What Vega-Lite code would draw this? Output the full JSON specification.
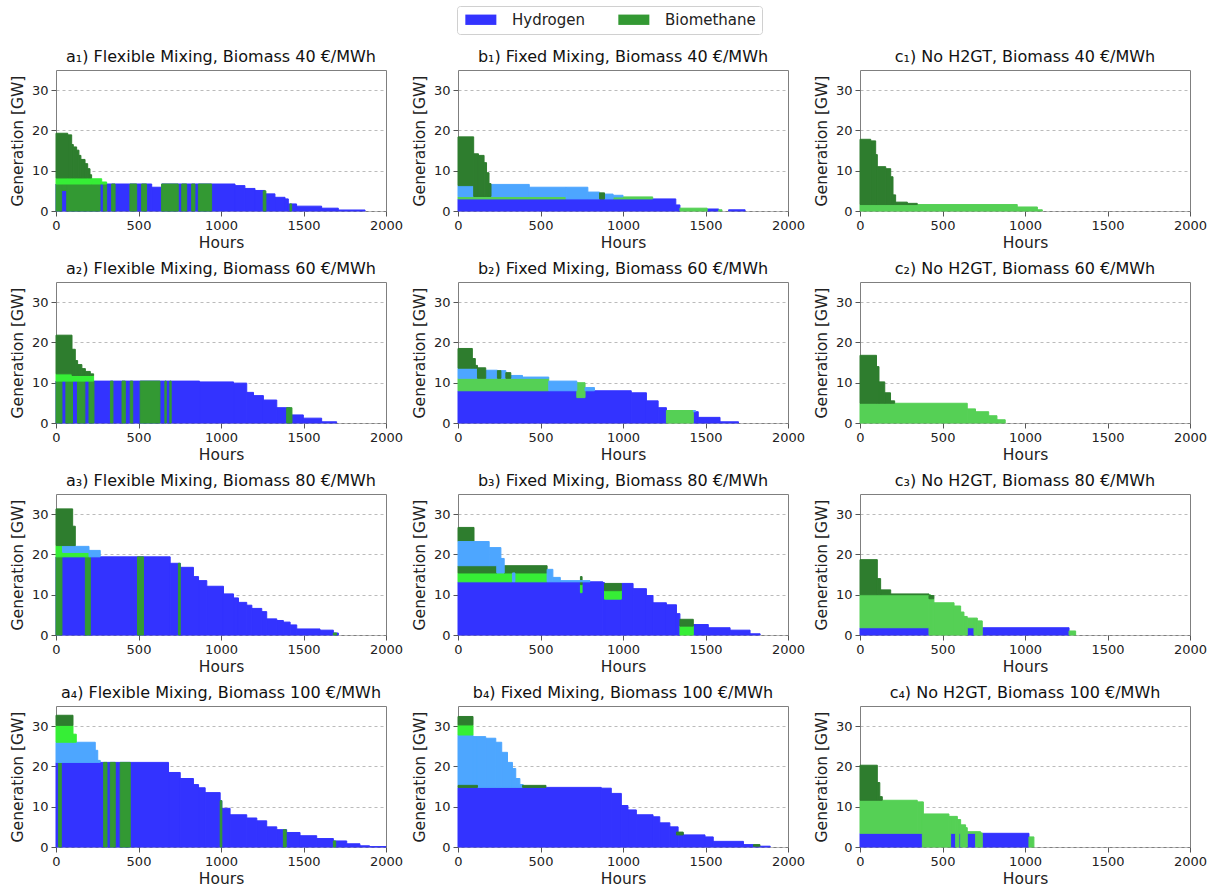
{
"$schema": "https://vega.github.io/schema/vega-lite/v6.json",
"padding": {"left": 9, "top": 5, "right": 5, "bottom": 5},
"bounds": "flush",
"columns": 3,
"spacing": {"row": 71, "column": 72},
"data": {"values": [
{"p":"a1","f":"Hydrogen","x":0,"x2":580,"y":0,"y2":6.7},
{"p":"a1","f":"Hydrogen","x":580,"x2":640,"y":0,"y2":5.9},
{"p":"a1","f":"Hydrogen","x":640,"x2":1085,"y":0,"y2":6.7},
{"p":"a1","f":"Hydrogen","x":1085,"x2":1145,"y":0,"y2":6.3},
{"p":"a1","f":"Hydrogen","x":1145,"x2":1206,"y":0,"y2":5.6},
{"p":"a1","f":"Hydrogen","x":1206,"x2":1266,"y":0,"y2":5.1},
{"p":"a1","f":"Hydrogen","x":1266,"x2":1327,"y":0,"y2":4.25},
{"p":"a1","f":"Hydrogen","x":1327,"x2":1388,"y":0,"y2":3.4},
{"p":"a1","f":"Hydrogen","x":1388,"x2":1408,"y":0,"y2":3.0},
{"p":"a1","f":"Hydrogen","x":1408,"x2":1458,"y":0,"y2":1.75},
{"p":"a1","f":"Hydrogen","x":1458,"x2":1610,"y":0,"y2":1.2},
{"p":"a1","f":"Hydrogen","x":1610,"x2":1711,"y":0,"y2":0.7},
{"p":"a1","f":"Hydrogen","x":1711,"x2":1873,"y":0,"y2":0.25},
{"p":"a1","f":"Biomethane","x":0,"x2":34,"y":0,"y2":6.7},
{"p":"a1","f":"Biomethane","x":34,"x2":65,"y":5.1,"y2":6.7},
{"p":"a1","f":"Biomethane","x":65,"x2":267,"y":0,"y2":6.7},
{"p":"a1","f":"Biomethane","x":287,"x2":307,"y":0,"y2":6.7},
{"p":"a1","f":"Biomethane","x":337,"x2":358,"y":0,"y2":6.7},
{"p":"a1","f":"Biomethane","x":448,"x2":489,"y":0,"y2":6.7},
{"p":"a1","f":"Biomethane","x":519,"x2":549,"y":0,"y2":6.7},
{"p":"a1","f":"Biomethane","x":640,"x2":741,"y":0,"y2":6.7},
{"p":"a1","f":"Biomethane","x":762,"x2":792,"y":0,"y2":6.7},
{"p":"a1","f":"Biomethane","x":822,"x2":842,"y":0,"y2":6.7},
{"p":"a1","f":"Biomethane","x":863,"x2":943,"y":0,"y2":6.7},
{"p":"a1","f":"Biomethane","x":1256,"x2":1272,"y":0,"y2":5.0},
{"p":"a1","f":"Biomethane","x":1418,"x2":1428,"y":0,"y2":1.75},
{"p":"a1","f":"Biomethane B","x":0,"x2":216,"y":6.7,"y2":8.2},
{"p":"a1","f":"Biomethane B","x":216,"x2":277,"y":6.7,"y2":8.0},
{"p":"a1","f":"Biomethane B","x":277,"x2":307,"y":6.7,"y2":7.2},
{"p":"a1","f":"Biomethane C","x":0,"x2":71,"y":8.2,"y2":19.3},
{"p":"a1","f":"Biomethane C","x":71,"x2":95,"y":8.2,"y2":18.9},
{"p":"a1","f":"Biomethane C","x":95,"x2":105,"y":8.2,"y2":16.5},
{"p":"a1","f":"Biomethane C","x":105,"x2":125,"y":8.2,"y2":15.9},
{"p":"a1","f":"Biomethane C","x":125,"x2":139,"y":8.2,"y2":15.1},
{"p":"a1","f":"Biomethane C","x":139,"x2":151,"y":8.2,"y2":13.8},
{"p":"a1","f":"Biomethane C","x":151,"x2":176,"y":8.2,"y2":12.8},
{"p":"a1","f":"Biomethane C","x":176,"x2":192,"y":8.2,"y2":11.75},
{"p":"a1","f":"Biomethane C","x":192,"x2":206,"y":8.2,"y2":10.5},
{"p":"a1","f":"Biomethane C","x":206,"x2":216,"y":8.2,"y2":9.0},

{"p":"b1","f":"Hydrogen","x":0,"x2":1320,"y":0,"y2":3.0},
{"p":"b1","f":"Hydrogen","x":1320,"x2":1345,"y":0,"y2":1.5},
{"p":"b1","f":"Hydrogen","x":1510,"x2":1580,"y":0,"y2":0.5},
{"p":"b1","f":"Hydrogen","x":1640,"x2":1740,"y":0,"y2":0.3},
{"p":"b1","f":"Biomethane D","x":0,"x2":655,"y":3.0,"y2":3.6},
{"p":"b1","f":"Biomethane D","x":940,"x2":1180,"y":3.0,"y2":3.5},
{"p":"b1","f":"Biomethane D","x":1345,"x2":1510,"y":0,"y2":0.7},
{"p":"b1","f":"Biomethane D","x":1580,"x2":1600,"y":0,"y2":0.3},
{"p":"b1","f":"Hydrogen B","x":0,"x2":95,"y":3.6,"y2":6.3},
{"p":"b1","f":"Hydrogen B","x":195,"x2":432,"y":3.6,"y2":6.6},
{"p":"b1","f":"Hydrogen B","x":432,"x2":655,"y":3.6,"y2":5.9},
{"p":"b1","f":"Hydrogen B","x":655,"x2":787,"y":3.0,"y2":5.9},
{"p":"b1","f":"Hydrogen B","x":787,"x2":858,"y":3.0,"y2":4.7},
{"p":"b1","f":"Hydrogen B","x":888,"x2":940,"y":3.0,"y2":4.2},
{"p":"b1","f":"Hydrogen B","x":940,"x2":1000,"y":3.5,"y2":3.9},
{"p":"b1","f":"Biomethane C","x":0,"x2":95,"y":6.3,"y2":18.4},
{"p":"b1","f":"Biomethane C","x":95,"x2":124,"y":3.6,"y2":14.2},
{"p":"b1","f":"Biomethane C","x":124,"x2":158,"y":3.6,"y2":13.8},
{"p":"b1","f":"Biomethane C","x":158,"x2":173,"y":3.6,"y2":12.0},
{"p":"b1","f":"Biomethane C","x":173,"x2":188,"y":3.6,"y2":9.5},
{"p":"b1","f":"Biomethane C","x":188,"x2":200,"y":3.6,"y2":6.8},
{"p":"b1","f":"Biomethane C","x":858,"x2":888,"y":3.0,"y2":4.5},

{"p":"c1","f":"Biomethane D","x":0,"x2":953,"y":0,"y2":1.6},
{"p":"c1","f":"Biomethane D","x":953,"x2":1075,"y":0,"y2":1.0},
{"p":"c1","f":"Biomethane D","x":1075,"x2":1105,"y":0,"y2":0.3},
{"p":"c1","f":"Biomethane C","x":0,"x2":65,"y":1.6,"y2":17.8},
{"p":"c1","f":"Biomethane C","x":65,"x2":95,"y":1.6,"y2":17.4},
{"p":"c1","f":"Biomethane C","x":95,"x2":105,"y":1.6,"y2":14.0},
{"p":"c1","f":"Biomethane C","x":105,"x2":156,"y":1.6,"y2":11.0},
{"p":"c1","f":"Biomethane C","x":156,"x2":186,"y":1.6,"y2":10.5},
{"p":"c1","f":"Biomethane C","x":186,"x2":200,"y":1.6,"y2":8.5},
{"p":"c1","f":"Biomethane C","x":200,"x2":216,"y":1.6,"y2":4.0},
{"p":"c1","f":"Biomethane C","x":216,"x2":287,"y":1.6,"y2":2.2},
{"p":"c1","f":"Biomethane C","x":287,"x2":347,"y":1.6,"y2":1.9},

{"p":"a2","f":"Hydrogen","x":0,"x2":870,"y":0,"y2":10.4},
{"p":"a2","f":"Hydrogen","x":870,"x2":1076,"y":0,"y2":10.2},
{"p":"a2","f":"Hydrogen","x":1076,"x2":1156,"y":0,"y2":9.9},
{"p":"a2","f":"Hydrogen","x":1156,"x2":1197,"y":0,"y2":7.6},
{"p":"a2","f":"Hydrogen","x":1197,"x2":1257,"y":0,"y2":6.8},
{"p":"a2","f":"Hydrogen","x":1257,"x2":1338,"y":0,"y2":5.7},
{"p":"a2","f":"Hydrogen","x":1338,"x2":1419,"y":0,"y2":3.8},
{"p":"a2","f":"Hydrogen","x":1419,"x2":1499,"y":0,"y2":2.0},
{"p":"a2","f":"Hydrogen","x":1499,"x2":1610,"y":0,"y2":1.2},
{"p":"a2","f":"Hydrogen","x":1610,"x2":1701,"y":0,"y2":0.3},
{"p":"a2","f":"Biomethane","x":0,"x2":36,"y":0,"y2":10.4},
{"p":"a2","f":"Biomethane","x":60,"x2":100,"y":0,"y2":10.4},
{"p":"a2","f":"Biomethane","x":130,"x2":175,"y":0,"y2":10.4},
{"p":"a2","f":"Biomethane","x":200,"x2":230,"y":0,"y2":10.4},
{"p":"a2","f":"Biomethane","x":330,"x2":345,"y":0,"y2":10.4},
{"p":"a2","f":"Biomethane","x":400,"x2":420,"y":0,"y2":10.4},
{"p":"a2","f":"Biomethane","x":450,"x2":465,"y":0,"y2":10.4},
{"p":"a2","f":"Biomethane","x":510,"x2":630,"y":0,"y2":10.4},
{"p":"a2","f":"Biomethane","x":660,"x2":668,"y":0,"y2":10.4},
{"p":"a2","f":"Biomethane","x":690,"x2":698,"y":0,"y2":10.4},
{"p":"a2","f":"Biomethane","x":1398,"x2":1430,"y":0,"y2":3.8},
{"p":"a2","f":"Biomethane B","x":0,"x2":100,"y":10.4,"y2":12.2},
{"p":"a2","f":"Biomethane B","x":100,"x2":228,"y":10.4,"y2":11.8},
{"p":"a2","f":"Biomethane C","x":0,"x2":97,"y":12.2,"y2":21.8},
{"p":"a2","f":"Biomethane C","x":97,"x2":117,"y":11.8,"y2":18.3},
{"p":"a2","f":"Biomethane C","x":117,"x2":131,"y":11.8,"y2":15.5},
{"p":"a2","f":"Biomethane C","x":131,"x2":157,"y":11.8,"y2":14.5},
{"p":"a2","f":"Biomethane C","x":157,"x2":178,"y":11.8,"y2":13.5},
{"p":"a2","f":"Biomethane C","x":178,"x2":208,"y":11.8,"y2":12.8},
{"p":"a2","f":"Biomethane C","x":208,"x2":228,"y":11.8,"y2":12.2},

{"p":"b2","f":"Hydrogen","x":0,"x2":1050,"y":0,"y2":8.0},
{"p":"b2","f":"Hydrogen","x":1050,"x2":1142,"y":0,"y2":7.5},
{"p":"b2","f":"Hydrogen","x":1142,"x2":1213,"y":0,"y2":5.5},
{"p":"b2","f":"Hydrogen","x":1213,"x2":1263,"y":0,"y2":3.8},
{"p":"b2","f":"Hydrogen","x":1426,"x2":1456,"y":0,"y2":2.8},
{"p":"b2","f":"Hydrogen","x":1456,"x2":1588,"y":0,"y2":1.4},
{"p":"b2","f":"Hydrogen","x":1588,"x2":1700,"y":0,"y2":0.3},
{"p":"b2","f":"Biomethane D","x":0,"x2":550,"y":8.0,"y2":11.1},
{"p":"b2","f":"Biomethane D","x":720,"x2":770,"y":6.3,"y2":10.0},
{"p":"b2","f":"Biomethane D","x":1263,"x2":1426,"y":0,"y2":3.1},
{"p":"b2","f":"Hydrogen B","x":0,"x2":118,"y":11.1,"y2":13.6},
{"p":"b2","f":"Hydrogen B","x":168,"x2":239,"y":11.1,"y2":13.1},
{"p":"b2","f":"Hydrogen B","x":260,"x2":290,"y":11.1,"y2":13.0},
{"p":"b2","f":"Hydrogen B","x":320,"x2":391,"y":11.1,"y2":11.8},
{"p":"b2","f":"Hydrogen B","x":391,"x2":550,"y":11.1,"y2":11.4},
{"p":"b2","f":"Hydrogen B","x":550,"x2":720,"y":8.0,"y2":10.4},
{"p":"b2","f":"Hydrogen B","x":770,"x2":827,"y":8.0,"y2":8.8},
{"p":"b2","f":"Hydrogen B","x":1426,"x2":1440,"y":2.8,"y2":3.1},
{"p":"b2","f":"Biomethane C","x":0,"x2":87,"y":13.6,"y2":18.5},
{"p":"b2","f":"Biomethane C","x":87,"x2":105,"y":13.6,"y2":16.0},
{"p":"b2","f":"Biomethane C","x":105,"x2":118,"y":13.6,"y2":14.3},
{"p":"b2","f":"Biomethane C","x":118,"x2":168,"y":11.1,"y2":13.7},
{"p":"b2","f":"Biomethane C","x":239,"x2":260,"y":11.1,"y2":13.0},
{"p":"b2","f":"Biomethane C","x":290,"x2":320,"y":11.1,"y2":12.5},

{"p":"c2","f":"Biomethane D","x":0,"x2":650,"y":0,"y2":4.9},
{"p":"c2","f":"Biomethane D","x":650,"x2":700,"y":0,"y2":3.5},
{"p":"c2","f":"Biomethane D","x":700,"x2":780,"y":0,"y2":2.8},
{"p":"c2","f":"Biomethane D","x":780,"x2":830,"y":0,"y2":1.8},
{"p":"c2","f":"Biomethane D","x":830,"x2":880,"y":0,"y2":0.8},
{"p":"c2","f":"Biomethane C","x":0,"x2":100,"y":4.9,"y2":16.8},
{"p":"c2","f":"Biomethane C","x":100,"x2":115,"y":4.9,"y2":14.0},
{"p":"c2","f":"Biomethane C","x":115,"x2":150,"y":4.9,"y2":10.2},
{"p":"c2","f":"Biomethane C","x":150,"x2":185,"y":4.9,"y2":7.5},
{"p":"c2","f":"Biomethane C","x":185,"x2":210,"y":4.9,"y2":5.5},

{"p":"a3","f":"Hydrogen","x":0,"x2":692,"y":0,"y2":19.4},
{"p":"a3","f":"Hydrogen","x":692,"x2":753,"y":0,"y2":17.8},
{"p":"a3","f":"Hydrogen","x":753,"x2":833,"y":0,"y2":16.8},
{"p":"a3","f":"Hydrogen","x":833,"x2":864,"y":0,"y2":14.5},
{"p":"a3","f":"Hydrogen","x":864,"x2":914,"y":0,"y2":13.5},
{"p":"a3","f":"Hydrogen","x":914,"x2":1015,"y":0,"y2":12.1},
{"p":"a3","f":"Hydrogen","x":1015,"x2":1076,"y":0,"y2":10.2},
{"p":"a3","f":"Hydrogen","x":1076,"x2":1106,"y":0,"y2":9.2},
{"p":"a3","f":"Hydrogen","x":1106,"x2":1156,"y":0,"y2":8.1},
{"p":"a3","f":"Hydrogen","x":1156,"x2":1187,"y":0,"y2":7.4},
{"p":"a3","f":"Hydrogen","x":1187,"x2":1247,"y":0,"y2":6.6},
{"p":"a3","f":"Hydrogen","x":1247,"x2":1277,"y":0,"y2":5.8},
{"p":"a3","f":"Hydrogen","x":1277,"x2":1338,"y":0,"y2":4.0},
{"p":"a3","f":"Hydrogen","x":1338,"x2":1378,"y":0,"y2":3.6},
{"p":"a3","f":"Hydrogen","x":1378,"x2":1419,"y":0,"y2":3.2},
{"p":"a3","f":"Hydrogen","x":1419,"x2":1459,"y":0,"y2":2.5},
{"p":"a3","f":"Hydrogen","x":1459,"x2":1600,"y":0,"y2":1.5},
{"p":"a3","f":"Hydrogen","x":1600,"x2":1681,"y":0,"y2":1.2},
{"p":"a3","f":"Hydrogen","x":1681,"x2":1711,"y":0,"y2":0.5},
{"p":"a3","f":"Biomethane","x":0,"x2":36,"y":0,"y2":19.4},
{"p":"a3","f":"Biomethane","x":178,"x2":208,"y":0,"y2":19.4},
{"p":"a3","f":"Biomethane","x":494,"x2":530,"y":0,"y2":19.4},
{"p":"a3","f":"Biomethane","x":742,"x2":753,"y":0,"y2":17.8},
{"p":"a3","f":"Biomethane","x":1681,"x2":1700,"y":0,"y2":0.5},
{"p":"a3","f":"Biomethane B","x":0,"x2":40,"y":20.5,"y2":22.2},
{"p":"a3","f":"Biomethane B","x":0,"x2":200,"y":19.4,"y2":20.5},
{"p":"a3","f":"Hydrogen B","x":40,"x2":117,"y":20.5,"y2":22.2},
{"p":"a3","f":"Hydrogen B","x":117,"x2":200,"y":20.5,"y2":22.0},
{"p":"a3","f":"Hydrogen B","x":200,"x2":268,"y":19.4,"y2":21.0},
{"p":"a3","f":"Biomethane C","x":0,"x2":101,"y":22.2,"y2":31.3},
{"p":"a3","f":"Biomethane C","x":101,"x2":117,"y":22.2,"y2":27.0},

{"p":"b3","f":"Hydrogen","x":0,"x2":878,"y":0,"y2":13.2},
{"p":"b3","f":"Hydrogen","x":878,"x2":888,"y":0,"y2":13.0},
{"p":"b3","f":"Hydrogen","x":888,"x2":990,"y":0,"y2":8.9},
{"p":"b3","f":"Hydrogen","x":990,"x2":1061,"y":0,"y2":12.8},
{"p":"b3","f":"Hydrogen","x":1061,"x2":1142,"y":0,"y2":11.5},
{"p":"b3","f":"Hydrogen","x":1142,"x2":1182,"y":0,"y2":9.8},
{"p":"b3","f":"Hydrogen","x":1182,"x2":1263,"y":0,"y2":8.0},
{"p":"b3","f":"Hydrogen","x":1263,"x2":1324,"y":0,"y2":7.5},
{"p":"b3","f":"Hydrogen","x":1324,"x2":1345,"y":0,"y2":5.3},
{"p":"b3","f":"Hydrogen","x":1426,"x2":1517,"y":0,"y2":2.6},
{"p":"b3","f":"Hydrogen","x":1517,"x2":1649,"y":0,"y2":1.8},
{"p":"b3","f":"Hydrogen","x":1649,"x2":1770,"y":0,"y2":1.2},
{"p":"b3","f":"Hydrogen","x":1770,"x2":1831,"y":0,"y2":0.3},
{"p":"b3","f":"Biomethane B","x":888,"x2":990,"y":8.9,"y2":11.0},
{"p":"b3","f":"Biomethane B","x":1345,"x2":1426,"y":0,"y2":2.2},
{"p":"b3","f":"Biomethane B","x":0,"x2":330,"y":13.2,"y2":15.4},
{"p":"b3","f":"Biomethane B","x":345,"x2":540,"y":13.2,"y2":15.4},
{"p":"b3","f":"Biomethane B","x":742,"x2":752,"y":10.5,"y2":12.5},
{"p":"b3","f":"Biomethane C","x":888,"x2":990,"y":11.0,"y2":12.8},
{"p":"b3","f":"Biomethane C","x":1345,"x2":1426,"y":2.2,"y2":3.9},
{"p":"b3","f":"Biomethane C","x":0,"x2":97,"y":23.2,"y2":26.7},
{"p":"b3","f":"Biomethane C","x":0,"x2":235,"y":15.4,"y2":17.2},
{"p":"b3","f":"Biomethane C","x":280,"x2":540,"y":15.4,"y2":17.2},
{"p":"b3","f":"Biomethane C","x":742,"x2":752,"y":12.5,"y2":14.5},
{"p":"b3","f":"Hydrogen B","x":0,"x2":189,"y":17.2,"y2":23.2},
{"p":"b3","f":"Hydrogen B","x":189,"x2":260,"y":17.2,"y2":21.7},
{"p":"b3","f":"Hydrogen B","x":235,"x2":260,"y":15.4,"y2":17.2},
{"p":"b3","f":"Hydrogen B","x":260,"x2":280,"y":15.4,"y2":19.0},
{"p":"b3","f":"Hydrogen B","x":330,"x2":345,"y":13.2,"y2":15.4},
{"p":"b3","f":"Hydrogen B","x":540,"x2":575,"y":13.2,"y2":16.3},
{"p":"b3","f":"Hydrogen B","x":575,"x2":620,"y":13.2,"y2":14.3},
{"p":"b3","f":"Hydrogen B","x":620,"x2":800,"y":13.2,"y2":13.5},

{"p":"c3","f":"Hydrogen","x":0,"x2":418,"y":0,"y2":1.8},
{"p":"c3","f":"Hydrogen","x":650,"x2":691,"y":0,"y2":1.8},
{"p":"c3","f":"Hydrogen","x":741,"x2":1267,"y":0,"y2":1.8},
{"p":"c3","f":"Biomethane D","x":0,"x2":418,"y":1.8,"y2":10.0},
{"p":"c3","f":"Biomethane D","x":418,"x2":428,"y":0,"y2":10.0},
{"p":"c3","f":"Biomethane D","x":428,"x2":448,"y":0,"y2":9.0},
{"p":"c3","f":"Biomethane D","x":448,"x2":570,"y":0,"y2":8.0},
{"p":"c3","f":"Biomethane D","x":570,"x2":610,"y":0,"y2":7.2},
{"p":"c3","f":"Biomethane D","x":610,"x2":630,"y":0,"y2":5.7},
{"p":"c3","f":"Biomethane D","x":630,"x2":650,"y":0,"y2":4.6},
{"p":"c3","f":"Biomethane D","x":650,"x2":691,"y":1.8,"y2":4.2},
{"p":"c3","f":"Biomethane D","x":691,"x2":711,"y":0,"y2":4.2},
{"p":"c3","f":"Biomethane D","x":711,"x2":741,"y":0,"y2":3.5},
{"p":"c3","f":"Biomethane D","x":1267,"x2":1307,"y":0,"y2":1.0},
{"p":"c3","f":"Biomethane C","x":0,"x2":105,"y":10.0,"y2":18.7},
{"p":"c3","f":"Biomethane C","x":105,"x2":125,"y":10.0,"y2":14.0},
{"p":"c3","f":"Biomethane C","x":125,"x2":186,"y":10.0,"y2":11.2},
{"p":"c3","f":"Biomethane C","x":186,"x2":418,"y":10.0,"y2":10.2},
{"p":"c3","f":"Biomethane C","x":418,"x2":448,"y":9.0,"y2":9.8},

{"p":"a4","f":"Hydrogen","x":0,"x2":682,"y":0,"y2":21.0},
{"p":"a4","f":"Hydrogen","x":682,"x2":753,"y":0,"y2":18.5},
{"p":"a4","f":"Hydrogen","x":753,"x2":833,"y":0,"y2":17.0},
{"p":"a4","f":"Hydrogen","x":833,"x2":864,"y":0,"y2":15.5},
{"p":"a4","f":"Hydrogen","x":864,"x2":904,"y":0,"y2":14.7},
{"p":"a4","f":"Hydrogen","x":904,"x2":995,"y":0,"y2":13.5},
{"p":"a4","f":"Hydrogen","x":995,"x2":1005,"y":0,"y2":11.5},
{"p":"a4","f":"Hydrogen","x":1005,"x2":1055,"y":0,"y2":9.6},
{"p":"a4","f":"Hydrogen","x":1055,"x2":1156,"y":0,"y2":8.0},
{"p":"a4","f":"Hydrogen","x":1156,"x2":1217,"y":0,"y2":7.2},
{"p":"a4","f":"Hydrogen","x":1217,"x2":1277,"y":0,"y2":6.5},
{"p":"a4","f":"Hydrogen","x":1277,"x2":1338,"y":0,"y2":5.0},
{"p":"a4","f":"Hydrogen","x":1338,"x2":1398,"y":0,"y2":4.3},
{"p":"a4","f":"Hydrogen","x":1398,"x2":1479,"y":0,"y2":3.6},
{"p":"a4","f":"Hydrogen","x":1479,"x2":1580,"y":0,"y2":2.8},
{"p":"a4","f":"Hydrogen","x":1580,"x2":1681,"y":0,"y2":2.1},
{"p":"a4","f":"Hydrogen","x":1681,"x2":1762,"y":0,"y2":1.5},
{"p":"a4","f":"Hydrogen","x":1762,"x2":1842,"y":0,"y2":0.8},
{"p":"a4","f":"Hydrogen","x":1842,"x2":1900,"y":0,"y2":0.3},
{"p":"a4","f":"Hydrogen","x":1900,"x2":2000,"y":0,"y2":0.1},
{"p":"a4","f":"Biomethane","x":16,"x2":32,"y":0,"y2":21.0},
{"p":"a4","f":"Biomethane","x":289,"x2":309,"y":0,"y2":21.0},
{"p":"a4","f":"Biomethane","x":329,"x2":359,"y":0,"y2":21.0},
{"p":"a4","f":"Biomethane","x":389,"x2":450,"y":0,"y2":21.0},
{"p":"a4","f":"Biomethane","x":995,"x2":1005,"y":0,"y2":11.5},
{"p":"a4","f":"Biomethane","x":1378,"x2":1395,"y":0,"y2":4.3},
{"p":"a4","f":"Biomethane","x":1681,"x2":1695,"y":0,"y2":1.5},
{"p":"a4","f":"Hydrogen B","x":0,"x2":238,"y":21.0,"y2":26.0},
{"p":"a4","f":"Hydrogen B","x":238,"x2":253,"y":21.0,"y2":24.0},
{"p":"a4","f":"Hydrogen B","x":253,"x2":268,"y":21.0,"y2":21.5},
{"p":"a4","f":"Biomethane B","x":0,"x2":103,"y":26.0,"y2":30.2},
{"p":"a4","f":"Biomethane B","x":103,"x2":123,"y":26.0,"y2":28.0},
{"p":"a4","f":"Biomethane C","x":0,"x2":103,"y":30.2,"y2":32.7},

{"p":"b4","f":"Hydrogen","x":0,"x2":868,"y":0,"y2":14.8},
{"p":"b4","f":"Hydrogen","x":868,"x2":929,"y":0,"y2":14.6},
{"p":"b4","f":"Hydrogen","x":929,"x2":990,"y":0,"y2":13.3},
{"p":"b4","f":"Hydrogen","x":990,"x2":1030,"y":0,"y2":10.3},
{"p":"b4","f":"Hydrogen","x":1030,"x2":1081,"y":0,"y2":9.2},
{"p":"b4","f":"Hydrogen","x":1081,"x2":1182,"y":0,"y2":8.0},
{"p":"b4","f":"Hydrogen","x":1182,"x2":1223,"y":0,"y2":7.5},
{"p":"b4","f":"Hydrogen","x":1223,"x2":1284,"y":0,"y2":6.0},
{"p":"b4","f":"Hydrogen","x":1284,"x2":1334,"y":0,"y2":5.0},
{"p":"b4","f":"Hydrogen","x":1334,"x2":1365,"y":0,"y2":3.5},
{"p":"b4","f":"Hydrogen","x":1365,"x2":1497,"y":0,"y2":3.0},
{"p":"b4","f":"Hydrogen","x":1497,"x2":1547,"y":0,"y2":2.5},
{"p":"b4","f":"Hydrogen","x":1547,"x2":1730,"y":0,"y2":1.4},
{"p":"b4","f":"Hydrogen","x":1730,"x2":1791,"y":0,"y2":0.6},
{"p":"b4","f":"Hydrogen","x":1791,"x2":1892,"y":0,"y2":0.2},
{"p":"b4","f":"Hydrogen B","x":0,"x2":91,"y":15.3,"y2":27.8},
{"p":"b4","f":"Hydrogen B","x":91,"x2":118,"y":15.3,"y2":27.4},
{"p":"b4","f":"Hydrogen B","x":118,"x2":168,"y":14.8,"y2":27.4},
{"p":"b4","f":"Hydrogen B","x":168,"x2":229,"y":14.8,"y2":27.0},
{"p":"b4","f":"Hydrogen B","x":229,"x2":265,"y":14.8,"y2":26.0},
{"p":"b4","f":"Hydrogen B","x":265,"x2":300,"y":14.8,"y2":23.5},
{"p":"b4","f":"Hydrogen B","x":300,"x2":330,"y":14.8,"y2":21.0},
{"p":"b4","f":"Hydrogen B","x":330,"x2":350,"y":14.8,"y2":19.5},
{"p":"b4","f":"Hydrogen B","x":350,"x2":375,"y":14.8,"y2":17.0},
{"p":"b4","f":"Hydrogen B","x":375,"x2":395,"y":14.8,"y2":15.5},
{"p":"b4","f":"Biomethane B","x":0,"x2":91,"y":27.8,"y2":30.3},
{"p":"b4","f":"Biomethane C","x":0,"x2":91,"y":30.3,"y2":32.4},
{"p":"b4","f":"Biomethane C","x":0,"x2":118,"y":14.8,"y2":15.3},
{"p":"b4","f":"Biomethane C","x":391,"x2":533,"y":14.8,"y2":15.3},
{"p":"b4","f":"Biomethane C","x":1324,"x2":1365,"y":3.0,"y2":3.7},
{"p":"b4","f":"Biomethane C","x":1791,"x2":1830,"y":0.2,"y2":0.6},

{"p":"c4","f":"Hydrogen","x":0,"x2":378,"y":0,"y2":3.4},
{"p":"c4","f":"Hydrogen","x":549,"x2":580,"y":0,"y2":3.4},
{"p":"c4","f":"Hydrogen","x":600,"x2":610,"y":0,"y2":3.4},
{"p":"c4","f":"Hydrogen","x":650,"x2":701,"y":0,"y2":3.4},
{"p":"c4","f":"Hydrogen","x":741,"x2":1024,"y":0,"y2":3.4},
{"p":"c4","f":"Biomethane D","x":0,"x2":347,"y":3.4,"y2":11.6},
{"p":"c4","f":"Biomethane D","x":347,"x2":378,"y":3.4,"y2":11.2},
{"p":"c4","f":"Biomethane D","x":378,"x2":384,"y":0,"y2":11.2},
{"p":"c4","f":"Biomethane D","x":384,"x2":539,"y":0,"y2":8.2},
{"p":"c4","f":"Biomethane D","x":539,"x2":549,"y":0,"y2":7.6},
{"p":"c4","f":"Biomethane D","x":549,"x2":580,"y":3.4,"y2":7.6},
{"p":"c4","f":"Biomethane D","x":580,"x2":590,"y":0,"y2":7.6},
{"p":"c4","f":"Biomethane D","x":590,"x2":600,"y":0,"y2":6.8},
{"p":"c4","f":"Biomethane D","x":600,"x2":610,"y":3.4,"y2":6.8},
{"p":"c4","f":"Biomethane D","x":610,"x2":640,"y":0,"y2":5.5},
{"p":"c4","f":"Biomethane D","x":640,"x2":650,"y":0,"y2":4.8},
{"p":"c4","f":"Biomethane D","x":650,"x2":701,"y":3.4,"y2":3.8},
{"p":"c4","f":"Biomethane D","x":701,"x2":731,"y":0,"y2":3.8},
{"p":"c4","f":"Biomethane D","x":731,"x2":741,"y":0,"y2":3.5},
{"p":"c4","f":"Biomethane D","x":1024,"x2":1054,"y":0,"y2":2.5},
{"p":"c4","f":"Biomethane C","x":0,"x2":105,"y":11.6,"y2":20.3},
{"p":"c4","f":"Biomethane C","x":105,"x2":120,"y":11.6,"y2":16.0},
{"p":"c4","f":"Biomethane C","x":120,"x2":135,"y":11.6,"y2":12.5}
]},
"concat": [
{"title":"a₁) Flexible Mixing, Biomass 40 €/MWh","width":330,"height":141,"transform":[{"filter":"datum.p === 'a1'"}],"mark":{"type":"rect","strokeWidth":1},"encoding":{"x":{"field":"x","type":"quantitative","scale":{"domain":[0,2000]},"axis":{"values":[0,500,1000,1500,2000],"format":"d","title":"Hours"}},"x2":{"field":"x2"},"y":{"field":"y","type":"quantitative","scale":{"domain":[0,35]},"axis":{"values":[0,10,20,30],"title":"Generation [GW]"}},"y2":{"field":"y2"},"color":{"field":"f","type":"nominal","scale":{"domain":["Hydrogen","Biomethane","Hydrogen B","Biomethane B","Biomethane C","Biomethane D"],"range":["#3333ff","#339933","#4da6ff","#36ee36","#2e7d2e","#55d055"]},"legend":{"values":["Hydrogen","Biomethane"],"title":null}},"stroke":{"field":"f","type":"nominal","scale":{"domain":["Hydrogen","Biomethane","Hydrogen B","Biomethane B","Biomethane C","Biomethane D"],"range":["#3333ff","#339933","#4da6ff","#36ee36","#2e7d2e","#55d055"]},"legend":null}}},
{"title":"b₁) Fixed Mixing, Biomass 40 €/MWh","width":330,"height":141,"transform":[{"filter":"datum.p === 'b1'"}],"mark":{"type":"rect","strokeWidth":1},"encoding":{"x":{"field":"x","type":"quantitative","scale":{"domain":[0,2000]},"axis":{"values":[0,500,1000,1500,2000],"format":"d","title":"Hours"}},"x2":{"field":"x2"},"y":{"field":"y","type":"quantitative","scale":{"domain":[0,35]},"axis":{"values":[0,10,20,30],"title":"Generation [GW]"}},"y2":{"field":"y2"},"color":{"field":"f","type":"nominal","scale":{"domain":["Hydrogen","Biomethane","Hydrogen B","Biomethane B","Biomethane C","Biomethane D"],"range":["#3333ff","#339933","#4da6ff","#36ee36","#2e7d2e","#55d055"]},"legend":{"values":["Hydrogen","Biomethane"],"title":null}},"stroke":{"field":"f","type":"nominal","scale":{"domain":["Hydrogen","Biomethane","Hydrogen B","Biomethane B","Biomethane C","Biomethane D"],"range":["#3333ff","#339933","#4da6ff","#36ee36","#2e7d2e","#55d055"]},"legend":null}}},
{"title":"c₁) No H2GT, Biomass 40 €/MWh","width":330,"height":141,"transform":[{"filter":"datum.p === 'c1'"}],"mark":{"type":"rect","strokeWidth":1},"encoding":{"x":{"field":"x","type":"quantitative","scale":{"domain":[0,2000]},"axis":{"values":[0,500,1000,1500,2000],"format":"d","title":"Hours"}},"x2":{"field":"x2"},"y":{"field":"y","type":"quantitative","scale":{"domain":[0,35]},"axis":{"values":[0,10,20,30],"title":"Generation [GW]"}},"y2":{"field":"y2"},"color":{"field":"f","type":"nominal","scale":{"domain":["Hydrogen","Biomethane","Hydrogen B","Biomethane B","Biomethane C","Biomethane D"],"range":["#3333ff","#339933","#4da6ff","#36ee36","#2e7d2e","#55d055"]},"legend":{"values":["Hydrogen","Biomethane"],"title":null}},"stroke":{"field":"f","type":"nominal","scale":{"domain":["Hydrogen","Biomethane","Hydrogen B","Biomethane B","Biomethane C","Biomethane D"],"range":["#3333ff","#339933","#4da6ff","#36ee36","#2e7d2e","#55d055"]},"legend":null}}},
{"title":"a₂) Flexible Mixing, Biomass 60 €/MWh","width":330,"height":141,"transform":[{"filter":"datum.p === 'a2'"}],"mark":{"type":"rect","strokeWidth":1},"encoding":{"x":{"field":"x","type":"quantitative","scale":{"domain":[0,2000]},"axis":{"values":[0,500,1000,1500,2000],"format":"d","title":"Hours"}},"x2":{"field":"x2"},"y":{"field":"y","type":"quantitative","scale":{"domain":[0,35]},"axis":{"values":[0,10,20,30],"title":"Generation [GW]"}},"y2":{"field":"y2"},"color":{"field":"f","type":"nominal","scale":{"domain":["Hydrogen","Biomethane","Hydrogen B","Biomethane B","Biomethane C","Biomethane D"],"range":["#3333ff","#339933","#4da6ff","#36ee36","#2e7d2e","#55d055"]},"legend":{"values":["Hydrogen","Biomethane"],"title":null}},"stroke":{"field":"f","type":"nominal","scale":{"domain":["Hydrogen","Biomethane","Hydrogen B","Biomethane B","Biomethane C","Biomethane D"],"range":["#3333ff","#339933","#4da6ff","#36ee36","#2e7d2e","#55d055"]},"legend":null}}},
{"title":"b₂) Fixed Mixing, Biomass 60 €/MWh","width":330,"height":141,"transform":[{"filter":"datum.p === 'b2'"}],"mark":{"type":"rect","strokeWidth":1},"encoding":{"x":{"field":"x","type":"quantitative","scale":{"domain":[0,2000]},"axis":{"values":[0,500,1000,1500,2000],"format":"d","title":"Hours"}},"x2":{"field":"x2"},"y":{"field":"y","type":"quantitative","scale":{"domain":[0,35]},"axis":{"values":[0,10,20,30],"title":"Generation [GW]"}},"y2":{"field":"y2"},"color":{"field":"f","type":"nominal","scale":{"domain":["Hydrogen","Biomethane","Hydrogen B","Biomethane B","Biomethane C","Biomethane D"],"range":["#3333ff","#339933","#4da6ff","#36ee36","#2e7d2e","#55d055"]},"legend":{"values":["Hydrogen","Biomethane"],"title":null}},"stroke":{"field":"f","type":"nominal","scale":{"domain":["Hydrogen","Biomethane","Hydrogen B","Biomethane B","Biomethane C","Biomethane D"],"range":["#3333ff","#339933","#4da6ff","#36ee36","#2e7d2e","#55d055"]},"legend":null}}},
{"title":"c₂) No H2GT, Biomass 60 €/MWh","width":330,"height":141,"transform":[{"filter":"datum.p === 'c2'"}],"mark":{"type":"rect","strokeWidth":1},"encoding":{"x":{"field":"x","type":"quantitative","scale":{"domain":[0,2000]},"axis":{"values":[0,500,1000,1500,2000],"format":"d","title":"Hours"}},"x2":{"field":"x2"},"y":{"field":"y","type":"quantitative","scale":{"domain":[0,35]},"axis":{"values":[0,10,20,30],"title":"Generation [GW]"}},"y2":{"field":"y2"},"color":{"field":"f","type":"nominal","scale":{"domain":["Hydrogen","Biomethane","Hydrogen B","Biomethane B","Biomethane C","Biomethane D"],"range":["#3333ff","#339933","#4da6ff","#36ee36","#2e7d2e","#55d055"]},"legend":{"values":["Hydrogen","Biomethane"],"title":null}},"stroke":{"field":"f","type":"nominal","scale":{"domain":["Hydrogen","Biomethane","Hydrogen B","Biomethane B","Biomethane C","Biomethane D"],"range":["#3333ff","#339933","#4da6ff","#36ee36","#2e7d2e","#55d055"]},"legend":null}}},
{"title":"a₃) Flexible Mixing, Biomass 80 €/MWh","width":330,"height":141,"transform":[{"filter":"datum.p === 'a3'"}],"mark":{"type":"rect","strokeWidth":1},"encoding":{"x":{"field":"x","type":"quantitative","scale":{"domain":[0,2000]},"axis":{"values":[0,500,1000,1500,2000],"format":"d","title":"Hours"}},"x2":{"field":"x2"},"y":{"field":"y","type":"quantitative","scale":{"domain":[0,35]},"axis":{"values":[0,10,20,30],"title":"Generation [GW]"}},"y2":{"field":"y2"},"color":{"field":"f","type":"nominal","scale":{"domain":["Hydrogen","Biomethane","Hydrogen B","Biomethane B","Biomethane C","Biomethane D"],"range":["#3333ff","#339933","#4da6ff","#36ee36","#2e7d2e","#55d055"]},"legend":{"values":["Hydrogen","Biomethane"],"title":null}},"stroke":{"field":"f","type":"nominal","scale":{"domain":["Hydrogen","Biomethane","Hydrogen B","Biomethane B","Biomethane C","Biomethane D"],"range":["#3333ff","#339933","#4da6ff","#36ee36","#2e7d2e","#55d055"]},"legend":null}}},
{"title":"b₃) Fixed Mixing, Biomass 80 €/MWh","width":330,"height":141,"transform":[{"filter":"datum.p === 'b3'"}],"mark":{"type":"rect","strokeWidth":1},"encoding":{"x":{"field":"x","type":"quantitative","scale":{"domain":[0,2000]},"axis":{"values":[0,500,1000,1500,2000],"format":"d","title":"Hours"}},"x2":{"field":"x2"},"y":{"field":"y","type":"quantitative","scale":{"domain":[0,35]},"axis":{"values":[0,10,20,30],"title":"Generation [GW]"}},"y2":{"field":"y2"},"color":{"field":"f","type":"nominal","scale":{"domain":["Hydrogen","Biomethane","Hydrogen B","Biomethane B","Biomethane C","Biomethane D"],"range":["#3333ff","#339933","#4da6ff","#36ee36","#2e7d2e","#55d055"]},"legend":{"values":["Hydrogen","Biomethane"],"title":null}},"stroke":{"field":"f","type":"nominal","scale":{"domain":["Hydrogen","Biomethane","Hydrogen B","Biomethane B","Biomethane C","Biomethane D"],"range":["#3333ff","#339933","#4da6ff","#36ee36","#2e7d2e","#55d055"]},"legend":null}}},
{"title":"c₃) No H2GT, Biomass 80 €/MWh","width":330,"height":141,"transform":[{"filter":"datum.p === 'c3'"}],"mark":{"type":"rect","strokeWidth":1},"encoding":{"x":{"field":"x","type":"quantitative","scale":{"domain":[0,2000]},"axis":{"values":[0,500,1000,1500,2000],"format":"d","title":"Hours"}},"x2":{"field":"x2"},"y":{"field":"y","type":"quantitative","scale":{"domain":[0,35]},"axis":{"values":[0,10,20,30],"title":"Generation [GW]"}},"y2":{"field":"y2"},"color":{"field":"f","type":"nominal","scale":{"domain":["Hydrogen","Biomethane","Hydrogen B","Biomethane B","Biomethane C","Biomethane D"],"range":["#3333ff","#339933","#4da6ff","#36ee36","#2e7d2e","#55d055"]},"legend":{"values":["Hydrogen","Biomethane"],"title":null}},"stroke":{"field":"f","type":"nominal","scale":{"domain":["Hydrogen","Biomethane","Hydrogen B","Biomethane B","Biomethane C","Biomethane D"],"range":["#3333ff","#339933","#4da6ff","#36ee36","#2e7d2e","#55d055"]},"legend":null}}},
{"title":"a₄) Flexible Mixing, Biomass 100 €/MWh","width":330,"height":141,"transform":[{"filter":"datum.p === 'a4'"}],"mark":{"type":"rect","strokeWidth":1},"encoding":{"x":{"field":"x","type":"quantitative","scale":{"domain":[0,2000]},"axis":{"values":[0,500,1000,1500,2000],"format":"d","title":"Hours"}},"x2":{"field":"x2"},"y":{"field":"y","type":"quantitative","scale":{"domain":[0,35]},"axis":{"values":[0,10,20,30],"title":"Generation [GW]"}},"y2":{"field":"y2"},"color":{"field":"f","type":"nominal","scale":{"domain":["Hydrogen","Biomethane","Hydrogen B","Biomethane B","Biomethane C","Biomethane D"],"range":["#3333ff","#339933","#4da6ff","#36ee36","#2e7d2e","#55d055"]},"legend":{"values":["Hydrogen","Biomethane"],"title":null}},"stroke":{"field":"f","type":"nominal","scale":{"domain":["Hydrogen","Biomethane","Hydrogen B","Biomethane B","Biomethane C","Biomethane D"],"range":["#3333ff","#339933","#4da6ff","#36ee36","#2e7d2e","#55d055"]},"legend":null}}},
{"title":"b₄) Fixed Mixing, Biomass 100 €/MWh","width":330,"height":141,"transform":[{"filter":"datum.p === 'b4'"}],"mark":{"type":"rect","strokeWidth":1},"encoding":{"x":{"field":"x","type":"quantitative","scale":{"domain":[0,2000]},"axis":{"values":[0,500,1000,1500,2000],"format":"d","title":"Hours"}},"x2":{"field":"x2"},"y":{"field":"y","type":"quantitative","scale":{"domain":[0,35]},"axis":{"values":[0,10,20,30],"title":"Generation [GW]"}},"y2":{"field":"y2"},"color":{"field":"f","type":"nominal","scale":{"domain":["Hydrogen","Biomethane","Hydrogen B","Biomethane B","Biomethane C","Biomethane D"],"range":["#3333ff","#339933","#4da6ff","#36ee36","#2e7d2e","#55d055"]},"legend":{"values":["Hydrogen","Biomethane"],"title":null}},"stroke":{"field":"f","type":"nominal","scale":{"domain":["Hydrogen","Biomethane","Hydrogen B","Biomethane B","Biomethane C","Biomethane D"],"range":["#3333ff","#339933","#4da6ff","#36ee36","#2e7d2e","#55d055"]},"legend":null}}},
{"title":"c₄) No H2GT, Biomass 100 €/MWh","width":330,"height":141,"transform":[{"filter":"datum.p === 'c4'"}],"mark":{"type":"rect","strokeWidth":1},"encoding":{"x":{"field":"x","type":"quantitative","scale":{"domain":[0,2000]},"axis":{"values":[0,500,1000,1500,2000],"format":"d","title":"Hours"}},"x2":{"field":"x2"},"y":{"field":"y","type":"quantitative","scale":{"domain":[0,35]},"axis":{"values":[0,10,20,30],"title":"Generation [GW]"}},"y2":{"field":"y2"},"color":{"field":"f","type":"nominal","scale":{"domain":["Hydrogen","Biomethane","Hydrogen B","Biomethane B","Biomethane C","Biomethane D"],"range":["#3333ff","#339933","#4da6ff","#36ee36","#2e7d2e","#55d055"]},"legend":{"values":["Hydrogen","Biomethane"],"title":null}},"stroke":{"field":"f","type":"nominal","scale":{"domain":["Hydrogen","Biomethane","Hydrogen B","Biomethane B","Biomethane C","Biomethane D"],"range":["#3333ff","#339933","#4da6ff","#36ee36","#2e7d2e","#55d055"]},"legend":null}}}
],
"config": {
"font": "DejaVu Sans",
"view": {"stroke": "#7f7f7f", "strokeWidth": 1},
"axis": {"domain": false, "labelFontSize": 13, "labelColor": "#222222", "titleFontSize": 15.5, "titleFontWeight": "normal", "titleColor": "#222222", "tickColor": "#555555", "tickSize": 5, "labelPadding": 3, "grid": false},
"axisY": {"grid": true, "gridDash": [3, 3], "gridColor": "#bbbbbb", "titlePadding": 6},
"axisX": {"titlePadding": 3, "labelFlush": false},
"title": {"fontSize": 16, "fontWeight": "normal", "color": "#111111", "offset": 5},
"legend": {"orient": "none", "legendX": 401, "legendY": -64, "direction": "horizontal", "columns": 2, "labelFontSize": 15, "labelColor": "#222222", "symbolType": "M-1,-1H5V1H-1Z", "symbolSize": 107, "symbolStrokeWidth": 0, "labelOffset": 34, "columnPadding": 31, "padding": 6, "strokeColor": "#d0d0d0", "fillColor": "#ffffff", "cornerRadius": 3}
}
}
